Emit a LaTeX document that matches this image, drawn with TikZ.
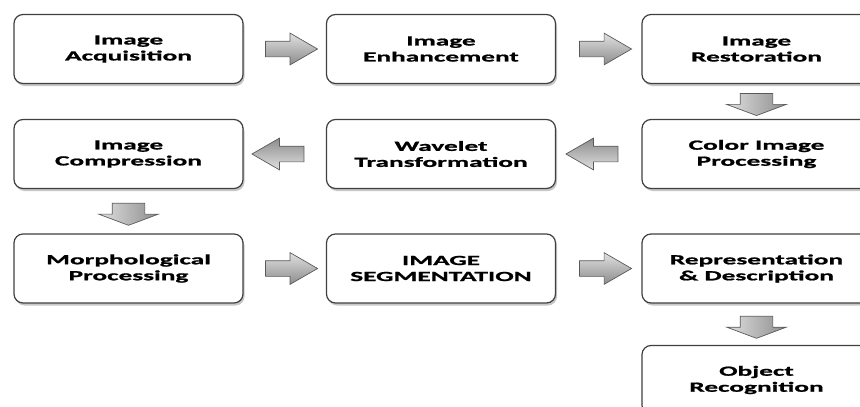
\documentclass[tikz,border=0pt]{standalone}
\usepackage{fontspec}
\newfontfamily\boxfont[FakeStretch=1.95, FakeBold=1.2]{Carlito}
\usetikzlibrary{positioning, calc, shapes.arrows, shadows}
\tikzset{
  stage/.style={draw=black!75, line width=1.2pt, rounded corners=9pt, fill=white,
    minimum width=229pt, minimum height=69pt, align=center, text=black,
    font=\boxfont\bfseries\fontsize{14}{16}\selectfont,
    drop shadow={shadow xshift=1.5pt, shadow yshift=-2.5pt, fill=black!40, opacity=0.55}},
  harrow/.style={single arrow, draw=black!65, line width=0.7pt, inner sep=0pt,
    inner ysep=7.5pt, minimum height=52pt, single arrow head extend=8pt,
    single arrow tip angle=60},
  varrow/.style={single arrow, draw=black!65, line width=0.7pt, inner sep=0pt,
    inner ysep=16pt, minimum height=22pt, single arrow head extend=13.5pt,
    single arrow tip angle=139, rotate=-90, left color=black!12, right color=black!45}
}
\begin{document}
\begin{tikzpicture}[x=1pt, y=-1pt]
  \useasboundingbox (0,0) rectangle (860,407);
  \clip (0,0) rectangle (860,407);
  % row 1
  \node[stage] (acq) at (128.5,49) {Image\\Acquisition};
  \node[stage] (enh) at (441,49) {Image\\Enhancement};
  \node[stage] (rest) at (756.5,49) {Image\\Restoration};
  % row 2
  \node[stage] (comp) at (128.5,154) {Image\\Compression};
  \node[stage] (wave) at (441,154) {Wavelet\\Transformation};
  \node[stage] (color) at (756.5,154) {Color Image\\Processing};
  % row 3
  \node[stage] (morph) at (128.5,268.5) {Morphological\\Processing};
  \node[stage] (seg) at (441,268.5) {IMAGE\\SEGMENTATION};
  \node[stage] (repr) at (756.5,268.5) {Representation\\\& Description};
  % row 4
  \node[stage] (obj) at (756.5,380) {Object\\Recognition};
  % block arrows
  \node[harrow, top color=black!12, bottom color=black!45] (a1) at ($(acq.east)!0.5!(enh.west)$) {};
  \node[harrow, top color=black!12, bottom color=black!45] (a2) at ($(enh.east)!0.5!(rest.west)$) {};
  \node[varrow] (a3) at ($(rest.south)!0.5!(color.north)$) {};
  \node[harrow, rotate=180, top color=black!45, bottom color=black!12] (a4) at ($(color.west)!0.5!(wave.east)$) {};
  \node[harrow, rotate=180, top color=black!45, bottom color=black!12] (a5) at ($(wave.west)!0.5!(comp.east)$) {};
  \node[varrow] (a6) at ($(comp.south)!0.5!(morph.north)$) {};
  \node[harrow, top color=black!12, bottom color=black!45] (a7) at ($(morph.east)!0.5!(seg.west)$) {};
  \node[harrow, top color=black!12, bottom color=black!45] (a8) at ($(seg.east)!0.5!(repr.west)$) {};
  \node[varrow] (a9) at ($(repr.south)!0.5!(obj.north)$) {};
\end{tikzpicture}
\end{document}
